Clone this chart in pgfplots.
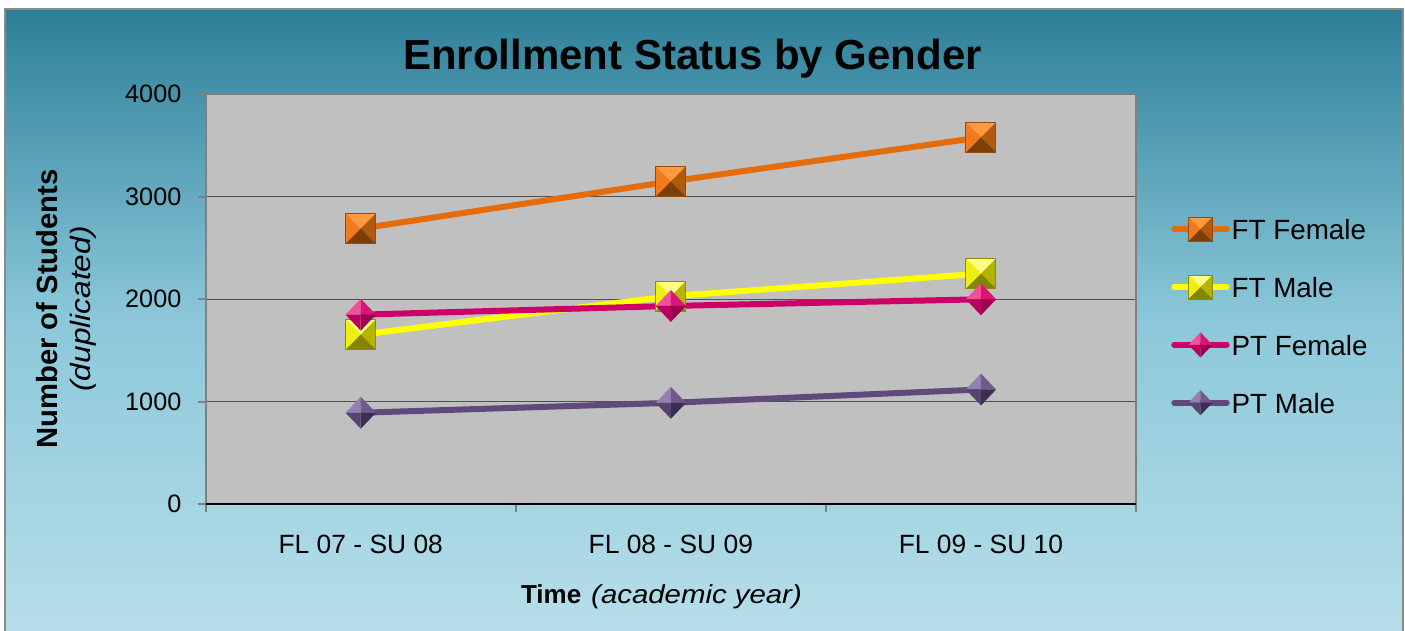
\documentclass[border=0pt]{standalone}
\usepackage{fontspec}
\setmainfont{Liberation Sans}
\newfontfamily\itwide{Liberation Sans}[FakeStretch=1.13]
\usepackage{pgfplots}
\pgfplotsset{compat=1.18}

\definecolor{bgtop}{HTML}{2C7F98}
\definecolor{bgmid}{HTML}{8CC8DA}
\definecolor{bgbot}{HTML}{B6DEE9}
\definecolor{framec}{HTML}{8A8A8A}
\definecolor{plotbg}{HTML}{C0C0C0}
\definecolor{axgray}{HTML}{808080}
\definecolor{gridc}{HTML}{505050}
\definecolor{cO}{HTML}{E46C0A}
\definecolor{cY}{HTML}{FFFF00}
\definecolor{cP}{HTML}{CC0066}
\definecolor{cV}{HTML}{604A7B}
\definecolor{oT}{HTML}{FF9A40}
\definecolor{oL}{HTML}{F27A1C}
\definecolor{oR}{HTML}{B25A0C}
\definecolor{oB}{HTML}{7E3E08}
\definecolor{oE}{HTML}{9A4A08}
\definecolor{yT}{HTML}{FFFF80}
\definecolor{yL}{HTML}{EEEE10}
\definecolor{yR}{HTML}{B4B400}
\definecolor{yB}{HTML}{848400}
\definecolor{yE}{HTML}{8C8C00}
\definecolor{pT}{HTML}{F2509A}
\definecolor{pL}{HTML}{DC1474}
\definecolor{pR}{HTML}{9C0050}
\definecolor{pB}{HTML}{B80060}
\definecolor{vT}{HTML}{9280B4}
\definecolor{vL}{HTML}{6E5A8E}
\definecolor{vR}{HTML}{3C2E52}
\definecolor{vB}{HTML}{54446E}

\newcommand\facet[4]{%
  \pgfsetfillcolor{#1}\pgfpathmoveto{#2}\pgfpathlineto{#3}\pgfpathlineto{#4}\pgfpathclose\pgfusepath{fill}}
\newcommand\declaresq[6]{%
 \pgfdeclareplotmark{#1}{%
  \facet{#2}{\pgfpoint{-\pgfplotmarksize}{\pgfplotmarksize}}{\pgfpoint{\pgfplotmarksize}{\pgfplotmarksize}}{\pgfpointorigin}%
  \facet{#3}{\pgfpoint{-\pgfplotmarksize}{\pgfplotmarksize}}{\pgfpoint{-\pgfplotmarksize}{-\pgfplotmarksize}}{\pgfpointorigin}%
  \facet{#4}{\pgfpoint{\pgfplotmarksize}{\pgfplotmarksize}}{\pgfpoint{\pgfplotmarksize}{-\pgfplotmarksize}}{\pgfpointorigin}%
  \facet{#5}{\pgfpoint{-\pgfplotmarksize}{-\pgfplotmarksize}}{\pgfpoint{\pgfplotmarksize}{-\pgfplotmarksize}}{\pgfpointorigin}%
  \pgfsetstrokecolor{#6}\pgfsetlinewidth{0.5pt}%
  \pgfpathrectangle{\pgfpoint{-\pgfplotmarksize}{-\pgfplotmarksize}}{\pgfpoint{2\pgfplotmarksize}{2\pgfplotmarksize}}\pgfusepath{stroke}}}
\newcommand\declaredia[5]{%
 \pgfdeclareplotmark{#1}{%
  \facet{#2}{\pgfpoint{-\pgfplotmarksize}{0pt}}{\pgfpoint{0pt}{1.05\pgfplotmarksize}}{\pgfpointorigin}%
  \facet{#3}{\pgfpoint{0pt}{1.05\pgfplotmarksize}}{\pgfpoint{\pgfplotmarksize}{0pt}}{\pgfpointorigin}%
  \facet{#4}{\pgfpoint{\pgfplotmarksize}{0pt}}{\pgfpoint{0pt}{-1.05\pgfplotmarksize}}{\pgfpointorigin}%
  \facet{#5}{\pgfpoint{0pt}{-1.05\pgfplotmarksize}}{\pgfpoint{-\pgfplotmarksize}{0pt}}{\pgfpointorigin}}}
\declaresq{pyrO}{oT}{oL}{oR}{oB}{oE}
\declaresq{pyrY}{yT}{yL}{yR}{yB}{yE}
\declaredia{diaP}{pT}{pL}{pR}{pB}
\declaredia{diaV}{vT}{vL}{vR}{vB}

\begin{document}
\begin{tikzpicture}
\useasboundingbox (0pt,0pt) rectangle (702.5pt,315.5pt);
\fill[white] (0pt,0pt) rectangle (702.5pt,315.5pt);
\shade[top color=bgtop, bottom color=bgbot, middle color=bgmid] (2.5pt,0pt) rectangle (701.5pt,311pt);
\draw[framec, line width=0.8pt] (2.5pt,-1pt) -- (2.5pt,311pt) -- (701.5pt,311pt) -- (701.5pt,-1pt);
\begin{axis}[
  at={(102.85pt,63.35pt)}, anchor=south west,
  width=465.15pt, height=205pt, scale only axis,
  xmin=-0.5, xmax=2.5, ymin=0, ymax=4000,
  axis background/.style={fill=plotbg},
  axis line style={draw=axgray, line width=1pt},
  xtick={-0.5,0.5,1.5,2.5}, xticklabels={},
  extra x ticks={0,1,2},
  extra x tick labels={FL 07 - SU 08,FL 08 - SU 09,FL 09 - SU 10},
  extra x tick style={major tick length=0pt, grid=none},
  ytick={0,1000,2000,3000,4000},
  xtick pos=bottom, ytick pos=left,
  tick align=outside, major tick length=4pt,
  tick style={draw=axgray, line width=0.9pt},
  ymajorgrids, major grid style={draw=gridc, line width=0.5pt},
  scaled y ticks=false,
  /pgf/number format/.cd, 1000 sep={}, assume math mode=true, /pgfplots/.cd,
  xticklabel style={anchor=base, inner sep=0pt, yshift=-24.6pt, font=\fontsize{13.2}{15}\selectfont},
  yticklabel style={anchor=east, inner sep=0pt, xshift=-8pt, font=\fontsize{12.6}{15}\selectfont},
  every axis title shift=0pt,
  title={Enrollment Status by Gender},
  title style={at={(rel axis cs:0.5233,1.061)}, anchor=base, inner sep=0pt, font=\bfseries\fontsize{21}{25}\selectfont},
  xlabel={\textbf{Time}\hspace{5pt}{\itwide\itshape (academic year)}},
  xlabel style={at={(rel axis cs:0.4899,-0.2415)}, anchor=base, inner sep=0pt, font=\fontsize{13}{15}\selectfont},
  ylabel={\textbf{Number of Students}\\{\itwide\itshape\fontsize{14}{16.4}\selectfont (duplicated)}},
  ylabel style={at={(rel axis cs:-0.1494,0.4763)}, anchor=center, align=center, inner sep=0pt, font=\fontsize{14.6}{16.4}\selectfont},
  legend style={at={(rel axis cs:1.0379,0.7032)}, anchor=north west, draw=none, fill=none,
    inner sep=0pt, outer sep=0pt, row sep=0pt, column sep=1pt,
    font=\fontsize{13.9}{16}\selectfont,
    nodes={inner sep=0pt, text height=12pt, text depth=16.9pt},
    cells={anchor=base west}},
  legend image code/.code={\draw[mark repeat=2, mark phase=2, #1, line cap=round, mark size=6pt]
    plot coordinates {(0pt,5.35pt) (13.1pt,5.35pt) (26.2pt,5.35pt)};},
  clip=false,
]
\addplot[cO, line width=3pt, line join=round, mark=pyrO, mark size=7.5pt] coordinates {(0,2690) (1,3150) (2,3580)};
\addlegendentry{FT Female}
\addplot[cY, line width=3pt, line join=round, mark=pyrY, mark size=7.5pt] coordinates {(0,1655) (1,2030) (2,2250)};
\addlegendentry{FT Male}
\addplot[cP, line width=3pt, line join=round, mark=diaP, mark size=7.6pt] coordinates {(0,1850) (1,1935) (2,2000)};
\addlegendentry{PT Female}
\addplot[cV, line width=3pt, line join=round, mark=diaV, mark size=7.6pt] coordinates {(0,893) (1,990) (2,1120)};
\addlegendentry{PT Male}
\draw[black, line width=1pt] (rel axis cs:0,0) -- (rel axis cs:1,0);
\end{axis}
\end{tikzpicture}
\end{document}
